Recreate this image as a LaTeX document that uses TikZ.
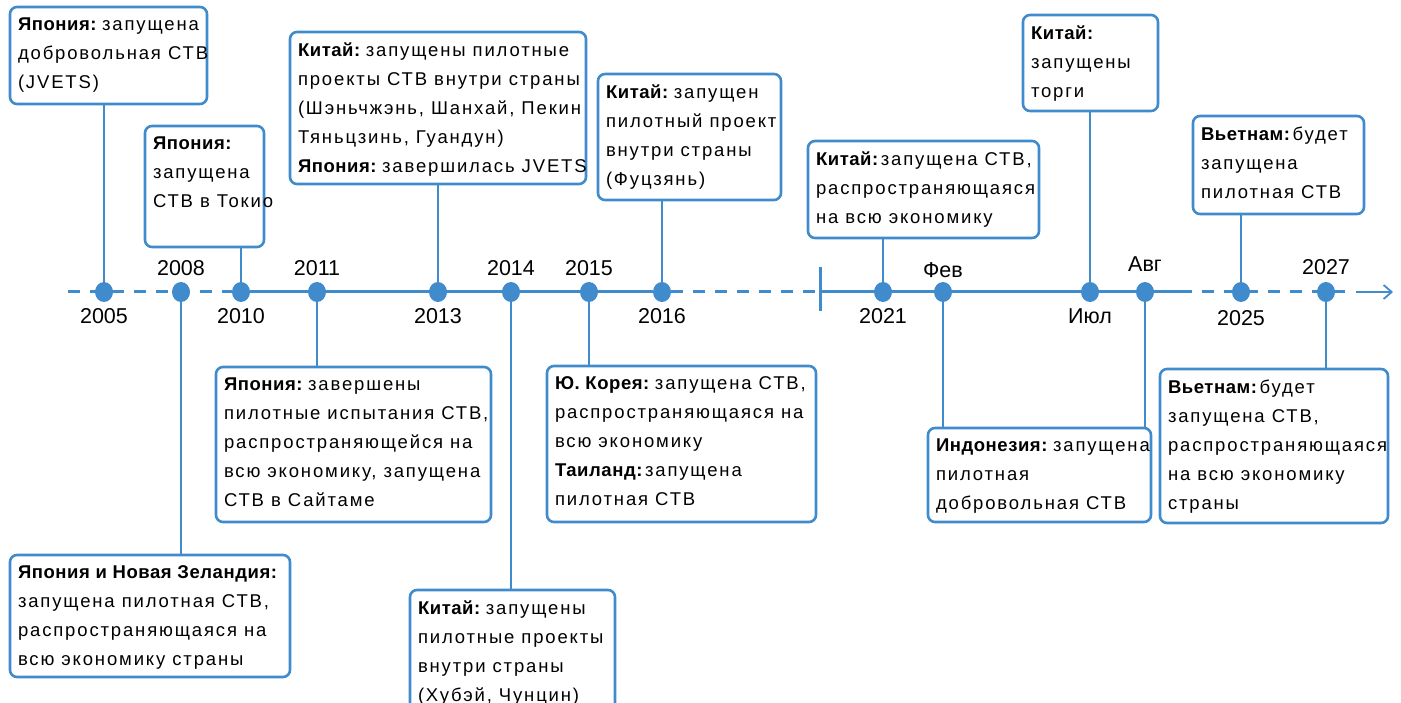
\documentclass[tikz,border=0pt]{standalone}
\usepackage{fontspec}
\setmainfont{Liberation Sans}[LetterSpace=10, BoldFeatures={LetterSpace=3}]
\newfontfamily\yrfam{Liberation Sans}
\usetikzlibrary{shapes.geometric,arrows.meta}
\definecolor{tlblue}{HTML}{3F8BCC}
\newcommand\tline[1]{\mbox{#1}\par}
\newcommand\hd[1]{\textbf{#1}\hspace{5pt}}
\newcommand\hdt[1]{\textbf{#1}\hspace{2pt}}
\newcommand\bxt[3]{\parbox[c][\dimexpr#2pt-20pt\relax][t]{\dimexpr#1pt-18pt\relax}{#3}}
\newcommand\boxfont{\fontsize{18.5}{29}\selectfont}
\newcommand\yrfont{\yrfam\fontsize{21.5}{24}\selectfont}
\begin{document}
\begin{tikzpicture}[x=1pt,y=-1pt,
  box/.style={draw=tlblue, line width=2.6pt, rounded corners=7pt, fill=white, anchor=north west,
    inner xsep=8pt, inner ysep=11pt, outer sep=0pt, font=\boxfont, text=black},
  dot/.style={ellipse, fill=tlblue, minimum width=18pt, minimum height=20pt, inner sep=0pt},
  yr/.style={font=\yrfont, text=black, inner sep=0pt},
  conn/.style={draw=tlblue, line width=2.6pt},
  tl/.style={draw=tlblue, line width=3pt},
  tldash/.style={draw=tlblue, line width=3pt, dash pattern=on 12pt off 10pt}]
\useasboundingbox (0,0) rectangle (1401,703);

% dots
\node[dot] (d2005) at (104,292) {};
\node[dot] (d2008) at (181,292) {};
\node[dot] (d2010) at (241,292) {};
\node[dot] (d2011) at (317,292) {};
\node[dot] (d2013) at (438,292) {};
\node[dot] (d2014) at (511,292) {};
\node[dot] (d2015) at (589,292) {};
\node[dot] (d2016) at (662,292) {};
\node[dot] (d2021) at (883,292) {};
\node[dot] (dfeb) at (943,292) {};
\node[dot] (djul) at (1090,292) {};
\node[dot] (daug) at (1145,292) {};
\node[dot] (d2025) at (1241,292) {};
\node[dot] (d2027) at (1326,292) {};

% timeline
\coordinate (tstart) at (68,292);
\coordinate (brk) at (820,292);
\coordinate (brkT) at (820,267);
\coordinate (brkB) at (820,311);
\coordinate (solidE) at (1180,292);
\coordinate (dashE) at (1345,292);
\coordinate (arrS) at (1356,292);
\coordinate (arrE) at (1393,292);
\draw[tldash] (tstart) -- (d2010);
\draw[tl] (d2010) -- (d2016);
\draw[tldash] (d2016) -- (brk);
\draw[tl] (brkT) -- (brkB);
\draw[tl] (brk) -- (solidE);
\draw[tldash] (solidE) -- (dashE);
\draw[draw=tlblue, line width=1.8pt, -{Straight Barb[length=8pt,width=14pt]}] (arrS) -- (arrE);

% year labels
\node[yr] (l2005) at ([yshift=-24pt]d2005) {2005};
\node[yr] (l2008) at ([yshift=24pt]d2008) {2008};
\node[yr] (l2010) at ([yshift=-24pt]d2010) {2010};
\node[yr] (l2011) at ([yshift=24pt]d2011) {2011};
\node[yr] (l2013) at ([yshift=-24pt]d2013) {2013};
\node[yr] (l2014) at ([yshift=24pt]d2014) {2014};
\node[yr] (l2015) at ([yshift=24pt]d2015) {2015};
\node[yr] (l2016) at ([yshift=-24pt]d2016) {2016};
\node[yr] (l2021) at ([yshift=-24pt]d2021) {2021};
\node[yr] (lfeb) at ([yshift=22pt]dfeb) {Фев};
\node[yr] (ljul) at ([yshift=-24pt]djul) {Июл};
\node[yr] (laug) at ([yshift=28pt]daug) {Авг};
\node[yr] (l2025) at ([yshift=-26pt]d2025) {2025};
\node[yr] (l2027) at ([yshift=25pt]d2027) {2027};

% boxes above
\node[box] (b1) at (10,7) {\bxt{199}{95}{\tline{\hd{Япония:}запущена}\tline{добровольная СТВ}\tline{(JVETS)}}};
\node[box] (b2) at (145,126) {\bxt{121}{119}{\tline{\textbf{Япония:}}\tline{запущена}\tline{СТВ в Токио}}};
\node[box] (b3) at (290,32) {\bxt{298}{150}{\tline{\hd{Китай:}запущены пилотные}\tline{проекты СТВ внутри страны}\tline{(Шэньчжэнь, Шанхай, Пекин}\tline{Тяньцзинь, Гуандун)}\tline{\hd{Япония:}завершилась JVETS}}};
\node[box] (b4) at (598,74) {\bxt{185}{124}{\tline{\hd{Китай:}запущен}\tline{пилотный проект}\tline{внутри страны}\tline{(Фуцзянь)}}};
\node[box] (b5) at (808,141) {\bxt{233}{95}{\tline{\hdt{Китай:}запущена СТВ,}\tline{распространяющаяся}\tline{на всю экономику}}};
\node[box] (b6) at (1023,15) {\bxt{137}{94}{\tline{\textbf{Китай:}}\tline{запущены}\tline{торги}}};
\node[box] (b7) at (1193,116) {\bxt{173}{96}{\tline{\hdt{Вьетнам:}будет}\tline{запущена}\tline{пилотная СТВ}}};

% boxes below
\node[box] (b8) at (216,367) {\bxt{277}{153}{\tline{\hd{Япония:}завершены}\tline{пилотные испытания СТВ,}\tline{распространяющейся на}\tline{всю экономику, запущена}\tline{СТВ в Сайтаме}}};
\node[box] (b9) at (10,555) {\bxt{282}{120}{\tline{\textbf{Япония и Новая Зеландия:}}\tline{запущена пилотная СТВ,}\tline{распространяющаяся на}\tline{всю экономику страны}}};
\node[box] (b10) at (410,590) {\bxt{207}{126}{\tline{\hd{Китай:}запущены}\tline{пилотные проекты}\tline{внутри страны}\tline{(Хубэй, Чунцин)}}};
\node[box] (b11) at (547,366) {\bxt{271}{154}{\tline{\hd{Ю. Корея:}запущена СТВ,}\tline{распространяющаяся на}\tline{всю экономику}\tline{\hdt{Таиланд:}запущена}\tline{пилотная СТВ}}};
\node[box] (b12) at (928,428) {\bxt{225}{92}{\tline{\hd{Индонезия:}запущена}\tline{пилотная}\tline{добровольная СТВ}}};
\node[box] (b13) at (1160,369) {\bxt{230}{152}{\tline{\hdt{Вьетнам:}будет}\tline{запущена СТВ,}\tline{распространяющаяся}\tline{на всю экономику}\tline{страны}}};

% connectors
\draw[conn] (b1.south -| d2005) -- (d2005);
\draw[conn] (b2.south -| d2010) -- (d2010);
\draw[conn] (b3.south -| d2013) -- (d2013);
\draw[conn] (b4.south -| d2016) -- (d2016);
\draw[conn] (b5.south -| d2021) -- (d2021);
\draw[conn] (b6.south -| djul) -- (djul);
\draw[conn] (b7.south -| d2025) -- (d2025);
\draw[conn] (d2008) -- (b9.north -| d2008);
\draw[conn] (d2011) -- (b8.north -| d2011);
\draw[conn] (d2014) -- (b10.north -| d2014);
\draw[conn] (d2015) -- (b11.north -| d2015);
\draw[conn] (dfeb) -- (b12.north -| dfeb);
\draw[conn] (daug) -- (b12.north -| daug);
\draw[conn] (d2027) -- (b13.north -| d2027);
\end{tikzpicture}
\end{document}
